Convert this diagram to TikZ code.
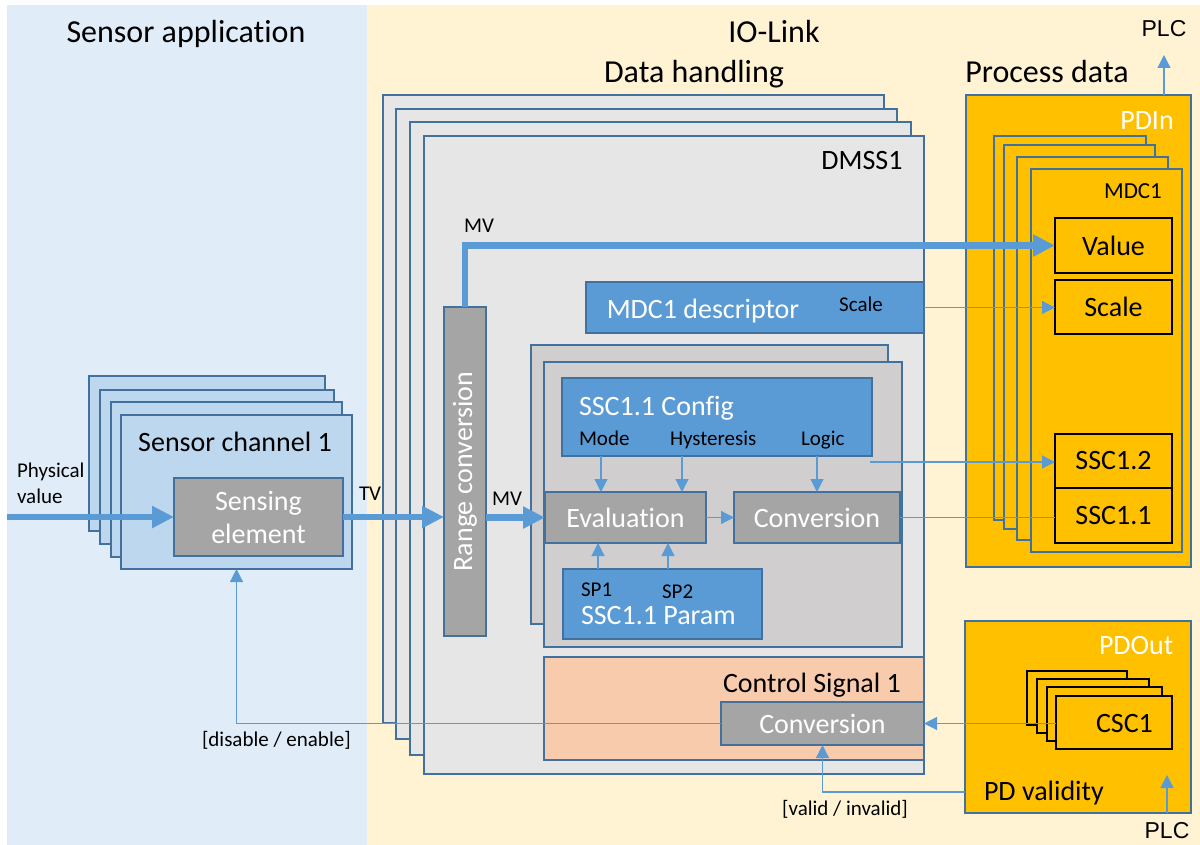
\documentclass[tikz,border=0pt]{standalone}
\usepackage{fontspec}
\setmainfont{Carlito}[Ligatures=NoCommon]
\newfontfamily\plcfont{Liberation Sans}
\usetikzlibrary{arrows.meta}

\definecolor{appbg}{HTML}{E0EDF9}
\definecolor{iobg}{HTML}{FFF3D3}
\definecolor{edge}{HTML}{41719C}
\definecolor{flow}{HTML}{5B9BD5}
\definecolor{dhfill}{HTML}{E7E6E6}
\definecolor{subfill}{HTML}{D0CECE}
\definecolor{funcfill}{HTML}{A5A5A5}
\definecolor{chfill}{HTML}{BDD7EE}
\definecolor{parfill}{HTML}{5B9BD5}
\definecolor{pdfill}{HTML}{FFC000}
\definecolor{ctlfill}{HTML}{F8CBAD}

\newcommand{\fsXL}{\fontsize{32}{36}\selectfont}
\newcommand{\fsL}{\fontsize{28}{33}\selectfont}
\newcommand{\fsM}{\fontsize{23}{27}\selectfont}
\newcommand{\fsS}{\fontsize{21}{25}\selectfont}

% rectangle node given by its top-left and bottom-right corners
\newcommand{\drawpanel}[7]{\node[#1,anchor=north west,minimum width={#5pt-#3pt},minimum height={#6pt-#4pt}] (#2) at (#3,#4) {#7};}

\begin{document}
\begin{tikzpicture}[x=1pt,y=-1pt,
  every node/.style={inner sep=0pt,outer sep=0pt},
  edgeframe/.style={draw=edge,line width=1.8pt},
  dhbox/.style={edgeframe,fill=dhfill},
  subbox/.style={edgeframe,fill=subfill},
  funcbox/.style={edgeframe,fill=funcfill,text=white,font=\fsL,align=center},
  chbox/.style={edgeframe,fill=chfill},
  parbox/.style={edgeframe,fill=parfill},
  pdbox/.style={edgeframe,fill=pdfill},
  cellbox/.style={draw=black,line width=1.5pt,fill=pdfill,font=\fsL},
  ctlbox/.style={edgeframe,fill=ctlfill},
  fatarrow/.style={draw=flow,line width=6.5pt,-{Triangle[length=22pt,width=21pt]}},
  lnk/.style={draw=flow,line width=1.2pt,-{Triangle[length=13pt,width=13pt]}},
  lnkplain/.style={draw=flow,line width=1.2pt},
  txtXL/.style={font=\fsXL,anchor=base},
  txtL/.style={font=\fsL,anchor=base west},
  txtS/.style={font=\fsS,anchor=base west},
]
\useasboundingbox (0,0) rectangle (1200,845);

% areas
\fill[appbg] (7,5) rectangle (367,845);
\fill[iobg] (367,5) rectangle (1200,845);

% area titles
\node[txtXL] (tapp) at (186,43) {Sensor application};
\node[txtXL] (tio) at (774,43) {IO-Link};
\node[txtXL] (tdh) at (694,83) {Data handling};
\node[txtXL] (tpd) at (1047,83) {Process data};
\node[font=\plcfont\fontsize{23}{27}\selectfont,anchor=base] (plctop) at (1164,37) {PLC};

% data handling stack
\drawpanel{dhbox}{dh1}{383}{95}{884}{723}{}
\drawpanel{dhbox}{dh2}{396}{109}{897}{739}{}
\drawpanel{dhbox}{dh3}{410}{122}{911}{755}{}
\drawpanel{dhbox}{dh4}{424}{136}{924}{774}{}
\node[font=\fsL,anchor=base] (dmss) at (862,170) {DMSS1};

\drawpanel{parbox}{desc}{586}{282}{924}{333}{}
\node[font=\fsL,text=white,anchor=base] (desct) at (703,318) {MDC1 descriptor};
\node[font=\fsS,anchor=base] (descs) at (861,312) {Scale};

\drawpanel{funcbox}{rc}{444}{307}{486}{636}{}
\node[font=\fsL,text=white,rotate=90] (rct) at (rc.center) {Range conversion};

\drawpanel{subbox}{sub1}{531}{345}{888}{624}{}
\drawpanel{subbox}{sub2}{544}{362}{902}{647}{}
\drawpanel{parbox}{cfg}{562}{378}{872}{456}{}
\node[txtL,text=white] (cfgt) at (579,415) {SSC1.1 Config};
\node[txtS] (mode) at (579,445) {Mode};
\node[txtS] (hyst) at (670,445) {Hysteresis};
\node[txtS] (logic) at (801,445) {Logic};
\drawpanel{funcbox}{eval}{545}{492}{706}{543}{Evaluation}
\drawpanel{funcbox}{conv}{734}{492}{900}{543}{Conversion}
\drawpanel{parbox}{par}{563}{569}{762}{639}{}
\node[txtS] (sp1) at (581,596) {SP1};
\node[txtS] (sp2) at (662,598) {SP2};
\node[txtL,text=white] (part) at (581,624) {SSC1.1 Param};

\drawpanel{ctlbox}{ctl}{544}{657}{924}{760}{}
\node[txtL] (ctlt) at (723,692) {Control Signal 1};
\drawpanel{funcbox}{conv2}{721}{702}{924}{745}{Conversion}

% sensor channel stack
\drawpanel{chbox}{sc1}{89}{376}{325}{531}{}
\drawpanel{chbox}{sc2}{100}{390}{334}{544}{}
\drawpanel{chbox}{sc3}{111}{402}{342}{557}{}
\drawpanel{chbox}{sc4}{121}{415}{352}{569}{}
\node[font=\fsL,anchor=base] (sct) at (235,451) {Sensor channel 1};
\drawpanel{funcbox}{sense}{174}{478}{343}{556}{Sensing\\element}

% process data in
\drawpanel{pdbox}{pdin}{966}{95}{1191}{567}{}
\node[font=\fsL,text=white,anchor=base] (pdint) at (1147,130) {PDIn};
\drawpanel{pdbox}{md1}{994}{136}{1146}{520}{}
\drawpanel{pdbox}{md2}{1004}{145}{1155}{529}{}
\drawpanel{pdbox}{md3}{1017}{157}{1168}{540}{}
\drawpanel{pdbox}{md4}{1031}{169}{1182}{552}{}
\node[font=\fsM,anchor=base] (mdct) at (1133,199) {MDC1};
\drawpanel{cellbox}{val}{1055}{218}{1172}{273}{Value}
\drawpanel{cellbox}{scl}{1055}{280}{1172}{334}{Scale}
\drawpanel{cellbox}{ssc12}{1055}{434}{1172}{488}{SSC1.2}
\drawpanel{cellbox}{ssc11}{1055}{488}{1172}{543}{SSC1.1}

% process data out
\drawpanel{pdbox}{pdout}{965}{621}{1191}{813}{}
\node[txtL,text=white] (pdoutt) at (1099,654) {PDOut};
\drawpanel{cellbox}{cs1}{1027}{671}{1127}{725}{}
\drawpanel{cellbox}{cs2}{1037}{679}{1149}{733}{}
\drawpanel{cellbox}{cs3}{1047}{687}{1162}{741}{}
\drawpanel{cellbox}{cs4}{1056}{696}{1172}{749}{}
\node[txtL] (csct) at (1096,732) {CSC1};
\node[txtL] (pdv) at (984,800) {PD validity};
\node[font=\plcfont\fontsize{23}{27}\selectfont,anchor=base] (plcbot) at (1167,838) {PLC};

% free ends of connectors
\coordinate (phys) at (7,517);
\coordinate (xmode) at (601,0);
\coordinate (xhyst) at (682,0);
\coordinate (xlogic) at (817,0);
\coordinate (xsp1) at (598,0);
\coordinate (xsp2) at (668,0);
\coordinate (cfgout) at (870,462);
\coordinate (pdvout) at (965,792);
\coordinate (plcup) at (1164,55);
\coordinate (plcin) at (1167,775);

% measured value path
\draw[fatarrow] (phys) -- (sense.west |- phys);
\draw[fatarrow] (sense.east) -- (sense.east -| rc.west);
\draw[fatarrow] (rc.east |- eval.west) -- (eval.west);
\draw[fatarrow] (rc.north) |- (val.west);

% switching signal path
\draw[lnk] (cfg.south -| xmode) -- (eval.north -| xmode);
\draw[lnk] (cfg.south -| xhyst) -- (eval.north -| xhyst);
\draw[lnk] (cfg.south -| xlogic) -- (conv.north -| xlogic);
\draw[lnk] (par.north -| xsp1) -- (eval.south -| xsp1);
\draw[lnk] (par.north -| xsp2) -- (eval.south -| xsp2);
\draw[lnk] (eval.east) -- (conv.west);
\draw[lnkplain] (conv.east) -- (conv.east -| ssc11.west);
\draw[lnk] (cfgout) -- (cfgout -| ssc12.west);
\draw[lnk] (desc.east) -- (desc.east -| scl.west);

% control signal path
\draw[lnk] (cs4.west |- conv2.east) -- (conv2.east);
\draw[lnk] (conv2.west) -| (sc4.south);
\draw[lnk] (pdvout) -| (conv2.south);

% PLC links
\draw[lnk] (plcup |- pdin.north) -- (plcup);
\draw[lnk] (plcin |- pdout.south) -- (plcin);

% connector labels
\node[txtS] (physt) at (17,477) {Physical};
\node[txtS] (physv) at (17,503) {value};
\node[txtS] (tvt) at (359,500) {TV};
\node[font=\fsS,anchor=base] (mv1) at (479,233) {MV};
\node[font=\fsS,anchor=base] (mv2) at (507,505) {MV};
\node[txtS] (dis) at (202,746) {[disable / enable]};
\node[font=\fsS,anchor=base] (vld) at (845,815) {[valid / invalid]};
\end{tikzpicture}
\end{document}
